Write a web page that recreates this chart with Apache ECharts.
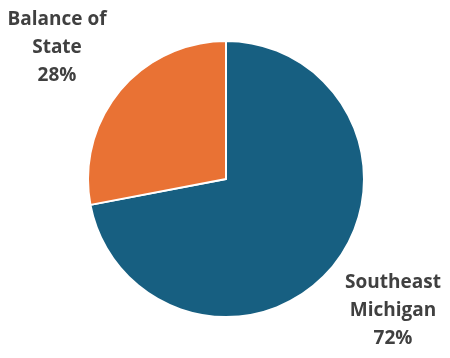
<!DOCTYPE html>
<html><head><meta charset="utf-8">
<script src="https://cdn.jsdelivr.net/npm/echarts@6/dist/echarts.min.js"></script>
<style>html,body{margin:0;padding:0;background:#fff}#c{width:450px;height:358px}</style>
</head><body><div id="c"></div>
<script>
const categories = ["Southeast Michigan", "Balance of State"];
const values = [72, 28];
const colors = ["#175F81", "#E97234"];
const labelPos = [[393, 311], [57, 48]];

const chart = echarts.init(document.getElementById('c'), null, {renderer: 'canvas'});
chart.setOption({
  animation: false,
  series: [{
    type: 'pie',
    center: [226, 179],
    radius: [0, 138],
    startAngle: 90,
    clockwise: true,
    data: categories.map((n, i) => ({name: n, value: values[i], itemStyle: {color: colors[i]}})),
    itemStyle: {borderColor: '#fff', borderWidth: 2},
    label: {
      show: true,
      position: 'outside',
      overflow: 'none',
      formatter: p => {
        const k = p.name.lastIndexOf(' ');
        return p.name.slice(0, k) + '\n' + p.name.slice(k + 1) + '\n' + p.value + '%';
      },
      color: '#404040',
      fontFamily: 'Open Sans',
      fontWeight: 'bold',
      fontSize: 19,
      lineHeight: 28,
      align: 'center'
    },
    labelLine: {show: false},
    labelLayout: p => ({x: labelPos[p.dataIndex][0], y: labelPos[p.dataIndex][1], align: 'center', verticalAlign: 'middle'})
  }]
});
</script></body></html>
